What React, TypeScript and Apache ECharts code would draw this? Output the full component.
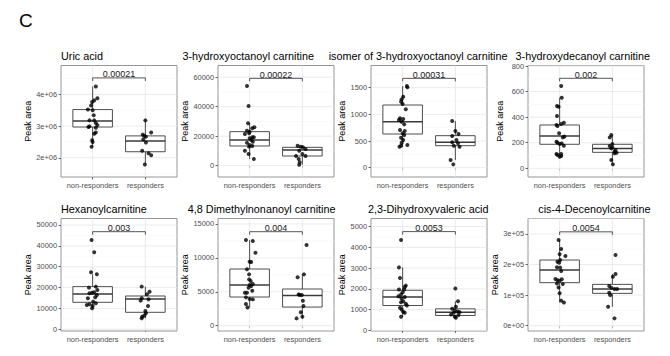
import React, { useEffect, useRef } from 'react';
import * as echarts from 'echarts';

// ---------- data ----------
const groups = ['non-responders', 'responders'];
const panelTitles = [
  'Uric acid',
  '3-hydroxyoctanoyl carnitine',
  'isomer of 3-hydroxyoctanoyl carnitine',
  '3-hydroxydecanoyl carnitine',
  'Hexanoylcarnitine',
  '4,8 Dimethylnonanoyl carnitine',
  '2,3-Dihydroxyvaleric acid',
  'cis-4-Decenoylcarnitine',
];
const pValues = ['0.00021', '0.00022', '0.00031', '0.002', '0.003', '0.004', '0.0053', '0.0054'];
const bracketHeights = [4.52e6, 59200, 1675, 704, 46800, 13860, 4760, 3.07e5];
const yMins = [1.393e6, -7684, -175, -67.8, -815, -780, -30, -17300];
const yMaxs = [4.911e6, 67910, 1916, 804, 53115, 15806, 5391, 350600];

// tick values / labels
const uricTicks = [2e6, 3e6, 4e6];
const uricTickLabels = ['2e+06', '3e+06', '4e+06'];
const hocTicks = [0, 20000, 40000, 60000];
const isoTicks = [0, 500, 1000, 1500];
const hdcTicks = [0, 200, 400, 600, 800];
const hexTicks = [0, 10000, 20000, 30000, 40000, 50000];
const dmnTicks = [0, 5000, 10000, 15000];
const dhvTicks = [0, 1000, 2000, 3000, 4000, 5000];
const cdcTicks = [0, 1e5, 2e5, 3e5];
const cdcTickLabels = ['0e+00', '1e+05', '2e+05', '3e+05'];

// points: [jittered group position, value]
const uricNonResp = [[1.06, 4.25e6], [1.09, 3.88e6], [1.03, 3.81e6], [0.99, 3.76e6], [0.97, 3.65e6], [0.91, 3.52e6], [1.0, 3.5e6], [1.02, 3.34e6], [0.94, 3.18e6], [1.03, 3.18e6], [1.06, 3.1e6], [1.09, 3.03e6], [0.94, 2.99e6], [0.92, 2.97e6], [1.06, 2.95e6], [1.06, 2.8e6], [1.03, 2.76e6], [0.99, 2.55e6], [1.0, 2.5e6], [0.98, 2.35e6]];
const uricResp = [[2.0, 3.18e6], [2.11, 2.8e6], [1.95, 2.73e6], [1.98, 2.69e6], [2.01, 2.66e6], [1.96, 2.58e6], [2.01, 2.48e6], [1.94, 2.22e6], [2.06, 2.14e6], [2.11, 2.08e6], [1.99, 1.79e6]];
const uricBoxNonResp = [2.35e6, 2.97e6, 3.16e6, 3.52e6, 4.25e6];
const uricBoxResp = [1.79e6, 2.19e6, 2.53e6, 2.69e6, 3.18e6];

const hocNonResp = [[0.95, 54000], [0.98, 40450], [0.97, 28700], [1.05, 25300], [1.09, 26000], [0.95, 23700], [1.0, 23050], [0.99, 21900], [0.91, 21470], [1.05, 19200], [1.0, 18530], [1.08, 19200], [1.03, 17400], [0.95, 15600], [1.06, 16270], [1.0, 14000], [1.05, 13300], [0.99, 12900], [0.91, 10170], [0.98, 7900], [1.08, 4520]];
const hocResp = [[1.91, 13560], [1.97, 12880], [2.01, 12430], [2.06, 11300], [1.94, 10170], [2.0, 7900], [1.88, 6550], [2.06, 6550], [1.93, 4520], [1.95, 2260], [1.94, 680]];
const hocBoxNonResp = [4520, 13330, 17400, 23050, 28700];
const hocBoxResp = [680, 6550, 10600, 12430, 13560];

const isoNonResp = [[1.08, 1531], [1.09, 1506], [1.01, 1331], [0.98, 1281], [0.97, 1237], [1.0, 1194], [1.06, 1094], [0.95, 925], [1.01, 912], [0.93, 894], [0.98, 862], [1.03, 812], [0.95, 706], [1.04, 687], [1.0, 644], [1.03, 612], [0.97, 562], [1.01, 519], [0.98, 469], [1.09, 425], [0.97, 412], [0.94, 394]];
const isoResp = [[1.94, 875], [2.0, 687], [2.06, 631], [1.94, 594], [2.02, 519], [1.94, 475], [2.05, 456], [1.97, 412], [2.08, 394], [1.91, 144], [1.96, 62]];
const isoBoxNonResp = [394, 631, 862, 1175, 1531];
const isoBoxResp = [144, 412, 475, 600, 875];

const hdcNonResp = [[1.03, 644], [1.04, 552], [0.95, 487], [0.98, 482], [0.95, 409], [1.08, 357], [1.03, 347], [0.94, 339], [0.96, 331], [0.99, 274], [1.09, 248], [1.06, 242], [0.94, 208], [0.96, 201], [1.04, 195], [1.0, 190], [1.08, 177], [0.94, 112], [1.03, 112], [1.03, 96], [1.0, 91], [0.96, 104]];
const hdcResp = [[1.98, 261], [1.95, 242], [2.0, 190], [1.95, 175], [2.0, 164], [1.98, 156], [2.06, 143], [2.04, 130], [2.08, 122], [2.04, 117], [1.98, 65], [2.01, 31]];
const hdcBoxNonResp = [91, 188, 253, 339, 552];
const hdcBoxResp = [31, 125, 156, 188, 261];

const hexNonResp = [[0.98, 42800], [1.03, 36900], [0.97, 27300], [1.08, 26360], [1.06, 20450], [0.93, 19970], [1.09, 18850], [0.99, 17570], [1.03, 17730], [0.94, 17250], [1.08, 16450], [1.05, 15340], [0.91, 14860], [1.01, 13260], [1.06, 12460], [0.94, 11980], [0.89, 11660], [1.0, 11180], [0.99, 10060]];
const hexResp = [[1.93, 20450], [2.08, 18050], [2.03, 16770], [1.93, 14860], [2.06, 14380], [1.91, 13740], [2.05, 11180], [2.0, 8790], [2.01, 7670], [1.98, 6550], [1.94, 6070], [1.93, 5270]];
const hexBoxNonResp = [10060, 12940, 16930, 20450, 26360];
const hexBoxResp = [5270, 8150, 14540, 15970, 20450];

const dmnNonResp = [[0.93, 12640], [1.06, 12490], [1.11, 10770], [1.0, 9440], [1.03, 9390], [0.95, 8310], [0.99, 7570], [0.99, 6830], [1.02, 6590], [1.06, 6150], [1.0, 6000], [1.03, 5850], [0.98, 5610], [1.05, 5160], [0.91, 4870], [0.95, 4870], [0.93, 4180], [1.0, 3930], [1.06, 3880], [0.93, 3200], [0.96, 2700]];
const dmnResp = [[2.08, 11900], [1.91, 7130], [2.03, 7570], [1.93, 4620], [1.95, 4520], [1.99, 4520], [2.01, 3690], [2.02, 2900], [1.97, 1970], [2.0, 1330], [1.89, 1080]];
const dmnBoxNonResp = [2700, 4230, 6000, 8360, 12640];
const dmnBoxResp = [1080, 2750, 4470, 5410, 7570];

const dhvNonResp = [[0.97, 4360], [0.93, 3035], [0.95, 2524], [1.06, 2157], [1.04, 2093], [1.03, 1965], [0.93, 1965], [1.0, 1837], [0.97, 1725], [0.92, 1645], [1.04, 1613], [0.98, 1533], [1.01, 1406], [0.97, 1358], [1.06, 1278], [1.08, 1198], [0.95, 1086], [0.98, 1006], [1.01, 895], [1.04, 847], [0.97, 655]];
const dhvResp = [[2.0, 2013], [2.05, 1406], [2.01, 1134], [1.94, 1038], [1.99, 958], [2.04, 910], [2.08, 879], [1.97, 847], [1.92, 767], [2.06, 735], [1.99, 655], [2.01, 607]];
const dhvBoxNonResp = [655, 1198, 1613, 1933, 3035];
const dhvBoxResp = [607, 719, 879, 1038, 1406];

const cdcNonResp = [[0.98, 2.8e5], [1.03, 2.51e5], [1.0, 2.34e5], [1.11, 2.28e5], [1.01, 2.15e5], [0.96, 2.09e5], [0.99, 2.06e5], [0.95, 1.91e5], [1.01, 1.9e5], [1.03, 1.79e5], [0.92, 1.53e5], [0.96, 1.49e5], [1.0, 1.47e5], [1.04, 1.52e5], [0.95, 1.38e5], [1.06, 1.36e5], [0.98, 1.25e5], [1.0, 1.06e5], [1.03, 0.82e5], [1.08, 0.76e5]];
const cdcResp = [[2.06, 2.31e5], [2.06, 1.69e5], [2.01, 1.6e5], [1.94, 1.3e5], [1.98, 1.24e5], [2.04, 1.2e5], [2.09, 1.2e5], [1.94, 1.08e5], [1.96, 1.0e5], [1.92, 0.62e5], [2.04, 0.24e5]];
const cdcBoxNonResp = [0.76e5, 1.407e5, 1.821e5, 2.148e5, 2.8e5];
const cdcBoxResp = [0.62e5, 1.058e5, 1.2e5, 1.352e5, 1.69e5];

// ---------- layout / style ----------
const FONT = '"Liberation Sans", Arial, Helvetica, sans-serif';
const gridLefts = [61, 218, 371, 528];
const gridWidths = [116, 116, 116, 116];
const rowTops = [65.5, 218.5];
const rowHeights = [111.5, 112.5];

type Panel = {
  nonResp: number[][];
  resp: number[][];
  boxNR: number[];
  boxR: number[];
  ticks: number[];
  labels?: string[];
};

const panels: Panel[] = [
  { nonResp: uricNonResp, resp: uricResp, boxNR: uricBoxNonResp, boxR: uricBoxResp, ticks: uricTicks, labels: uricTickLabels },
  { nonResp: hocNonResp, resp: hocResp, boxNR: hocBoxNonResp, boxR: hocBoxResp, ticks: hocTicks },
  { nonResp: isoNonResp, resp: isoResp, boxNR: isoBoxNonResp, boxR: isoBoxResp, ticks: isoTicks },
  { nonResp: hdcNonResp, resp: hdcResp, boxNR: hdcBoxNonResp, boxR: hdcBoxResp, ticks: hdcTicks },
  { nonResp: hexNonResp, resp: hexResp, boxNR: hexBoxNonResp, boxR: hexBoxResp, ticks: hexTicks },
  { nonResp: dmnNonResp, resp: dmnResp, boxNR: dmnBoxNonResp, boxR: dmnBoxResp, ticks: dmnTicks },
  { nonResp: dhvNonResp, resp: dhvResp, boxNR: dhvBoxNonResp, boxR: dhvBoxResp, ticks: dhvTicks },
  { nonResp: cdcNonResp, resp: cdcResp, boxNR: cdcBoxNonResp, boxR: cdcBoxResp, ticks: cdcTicks, labels: cdcTickLabels },
];

// title positions: [left or null, right edge or null, top]
const titlePos = [
  { left: 61, top: 49.5 },
  { left: 182.5, top: 49.5 },
  { rightEdge: 507.5, top: 49.5 },
  { rightEdge: 650, top: 49.5 },
  { left: 61, top: 202.7 },
  { rightEdge: 335.5, top: 202.7 },
  { rightEdge: 488.5, top: 202.7 },
  { rightEdge: 650.5, top: 202.7 },
];

function buildOption() {
  const titles: any[] = [
    { text: 'C', left: 19, top: 9, padding: 0, textStyle: { fontSize: 19, lineHeight: 22, fontWeight: 'normal', color: '#000', fontFamily: FONT } },
  ];
  const grids: any[] = [];
  const xAxes: any[] = [];
  const yAxes: any[] = [];
  const series: any[] = [];

  panels.forEach((p, i) => {
    const col = i % 4;
    const row = Math.floor(i / 4);
    const tp: any = titlePos[i];
    const t: any = {
      text: panelTitles[i],
      top: tp.top,
      padding: 0,
      textStyle: { fontSize: 10.8, lineHeight: 13, fontWeight: 'normal', color: '#000', fontFamily: FONT },
    };
    if (tp.left != null) t.left = tp.left;
    else t.right = 670 - tp.rightEdge;
    titles.push(t);

    grids.push({
      left: gridLefts[col],
      top: rowTops[row],
      width: gridWidths[col],
      height: rowHeights[row],
      show: true,
      borderColor: '#8a8a8a',
      borderWidth: 0.9,
      backgroundColor: '#fff',
      containLabel: false,
      outerBoundsMode: 'none',
    });

    xAxes.push({
      type: 'value',
      gridIndex: i,
      min: 0.4,
      max: 2.6,
      axisLine: { show: false },
      axisTick: { show: true, length: 2.5, customValues: [1, 2], lineStyle: { color: '#444', width: 0.8 } },
      axisLabel: {
        customValues: [1, 2],
        formatter: (v: number) => groups[Math.round(v) - 1] || '',
        fontSize: 7.4,
        color: '#4d4d4d',
        margin: 4.5,
        fontFamily: FONT,
      },
      splitLine: { show: false },
    });

    const ticks = p.ticks;
    const labels = p.labels;
    yAxes.push({
      type: 'value',
      gridIndex: i,
      min: yMins[i],
      max: yMaxs[i],
      name: 'Peak area',
      nameLocation: 'middle',
      nameRotate: 90,
      nameGap: 24,
      nameTextStyle: { fontSize: 9, color: '#000', fontFamily: FONT },
      axisLine: { show: false },
      axisTick: { show: true, length: 2.5, customValues: ticks, lineStyle: { color: '#444', width: 0.8 } },
      axisLabel: {
        customValues: ticks,
        formatter: (v: number) => {
          let k = -1;
          ticks.forEach((tv, j) => {
            if (Math.abs(tv - v) < 1e-6 * Math.max(1, Math.abs(tv))) k = j;
          });
          if (k < 0) return '';
          return labels ? labels[k] : String(ticks[k]);
        },
        fontSize: 7.4,
        color: '#4d4d4d',
        margin: 4,
        fontFamily: FONT,
      },
      splitLine: { show: false },
    });

    // gridlines (theme_bw style): major at ticks, minor midway, vertical at groups
    const step = ticks[1] - ticks[0];
    const gridData: number[][] = [];
    ticks.forEach((tv) => gridData.push([0, tv]));
    for (let m = ticks[0] - step / 2; m <= yMaxs[i]; m += step) {
      if (m >= yMins[i] && m <= yMaxs[i]) gridData.push([1, m]);
    }
    gridData.push([2, 1], [2, 2]);
    const ymin = yMins[i];
    const ymax = yMaxs[i];
    series.push({
      type: 'custom',
      xAxisIndex: i,
      yAxisIndex: i,
      silent: true,
      z: 1,
      encode: { x: 1, y: 1 },
      data: gridData,
      renderItem: (params: any, api: any) => {
        const kind = api.value(0);
        const v = api.value(1);
        let a, b;
        if (kind === 2) {
          a = api.coord([v, ymin]);
          b = api.coord([v, ymax]);
        } else {
          a = api.coord([0.4, v]);
          b = api.coord([2.6, v]);
        }
        return {
          type: 'line',
          shape: { x1: a[0], y1: a[1], x2: b[0], y2: b[1] },
          style: { stroke: kind === 1 ? '#f3f3f3' : '#e6e6e6', lineWidth: kind === 1 ? 0.5 : 0.8 },
        };
      },
    });

    // boxes
    series.push({
      type: 'custom',
      xAxisIndex: i,
      yAxisIndex: i,
      silent: true,
      z: 2,
      encode: { x: 0, y: [1, 2, 3, 4, 5] },
      data: [[1, ...p.boxNR], [2, ...p.boxR]],
      renderItem: (params: any, api: any) => {
        const x = api.value(0);
        const lo = api.value(1);
        const q1 = api.value(2);
        const med = api.value(3);
        const q3 = api.value(4);
        const hi = api.value(5);
        const half = 0.375;
        const tl = api.coord([x - half, q3]);
        const br = api.coord([x + half, q1]);
        const ml = api.coord([x - half, med]);
        const mr = api.coord([x + half, med]);
        const pHi = api.coord([x, hi]);
        const pQ3 = api.coord([x, q3]);
        const pQ1 = api.coord([x, q1]);
        const pLo = api.coord([x, lo]);
        const stroke = '#3a3a3a';
        return {
          type: 'group',
          children: [
            { type: 'line', shape: { x1: pHi[0], y1: pHi[1], x2: pQ3[0], y2: pQ3[1] }, style: { stroke, lineWidth: 0.9 } },
            { type: 'line', shape: { x1: pQ1[0], y1: pQ1[1], x2: pLo[0], y2: pLo[1] }, style: { stroke, lineWidth: 0.9 } },
            { type: 'rect', shape: { x: tl[0], y: tl[1], width: br[0] - tl[0], height: br[1] - tl[1] }, style: { fill: '#fff', stroke, lineWidth: 0.9 } },
            { type: 'line', shape: { x1: ml[0], y1: ml[1], x2: mr[0], y2: mr[1] }, style: { stroke, lineWidth: 1.5 } },
          ],
        };
      },
    });

    // jittered points
    series.push({
      type: 'scatter',
      xAxisIndex: i,
      yAxisIndex: i,
      silent: true,
      z: 3,
      symbol: 'circle',
      symbolSize: 4,
      itemStyle: { color: '#000' },
      data: [...p.nonResp, ...p.resp],
    });

    // comparison bracket
    const pv = pValues[i];
    series.push({
      type: 'custom',
      xAxisIndex: i,
      yAxisIndex: i,
      silent: true,
      z: 4,
      encode: { x: [0, 1], y: 2 },
      data: [[1, 2, bracketHeights[i]]],
      renderItem: (params: any, api: any) => {
        const a = api.coord([api.value(0), api.value(2)]);
        const b = api.coord([api.value(1), api.value(2)]);
        return {
          type: 'group',
          children: [
            {
              type: 'polyline',
              shape: { points: [[a[0], a[1] + 3], [a[0], a[1]], [b[0], b[1]], [b[0], b[1] + 3]] },
              style: { stroke: '#444', lineWidth: 0.9, fill: 'none' },
            },
            {
              type: 'text',
              x: (a[0] + b[0]) / 2,
              y: a[1] + 1,
              style: {
                text: pv,
                fill: '#1a1a1a',
                fontSize: 9,
                fontFamily: FONT,
                align: 'center',
                verticalAlign: 'bottom',
              },
            },
          ],
        };
      },
    });
  });

  return {
    animation: false,
    backgroundColor: '#fff',
    title: titles,
    grid: grids,
    xAxis: xAxes,
    yAxis: yAxes,
    series,
  };
}

export default function App() {
  const ref = useRef<HTMLDivElement>(null);
  useEffect(() => {
    document.body.style.margin = '0';
    if (!ref.current) return;
    const chart = echarts.init(ref.current, undefined, { renderer: 'svg' });
    chart.setOption(buildOption() as any);
    return () => {
      chart.dispose();
    };
  }, []);
  return <div ref={ref} style={{ width: 670, height: 356 }} />;
}
